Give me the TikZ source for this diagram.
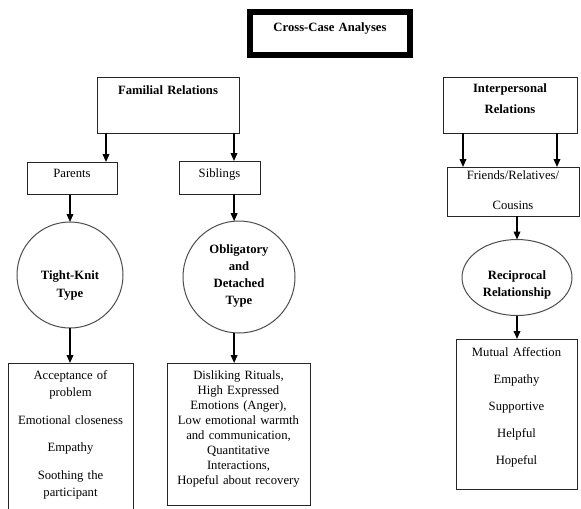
\documentclass[tikz,border=0pt]{standalone}
\usepackage{fontspec}
\setmainfont{Liberation Serif}
\usepackage{tikz}
\usetikzlibrary{
  shapes.geometric,
  arrows.meta
}
\tikzset{every picture/.style={line width=0.75pt}}

\begin{document}
\begin{tikzpicture}[x=0.75pt,y=0.75pt,yscale=-1,xscale=1,
  boxnode/.style={draw=black!85, inner sep=0pt, outer sep=0pt, align=center, anchor=north, font=\fontsize{9.5}{11.25}\selectfont},
  hdrbox/.style={boxnode, font=\fontsize{9.5}{11.25}\selectfont\bfseries},
  typenode/.style={draw=black!70, inner sep=0pt, outer sep=0pt, align=center, font=\fontsize{9.5}{11.25}\selectfont\bfseries},
  conn/.style={-{Triangle[length=6pt,width=5pt]}, line width=1.1pt}]
\useasboundingbox (0,0) rectangle (581,508);

%Shape: Rectangle [title]
\node [hdrbox, line width=4.5pt, draw=black, text width=120pt, text height=14.25pt, text depth=18pt] (title) at (330,12) {Cross-Case Analyses};

%Shape: Rectangle [left branch]
\node [hdrbox, text width=106.5pt, text height=13.1pt, text depth=28.9pt] (familial) at (168,77) {Familial Relations};
\node [boxnode, text width=67.5pt, text height=11.6pt, text depth=13.1pt] (parents) at (72,162) {Parents};
\node [boxnode, text width=60.75pt, text height=12.4pt, text depth=12.4pt] (siblings) at (219.5,161) {Siblings};

%Shape: Rectangle [right branch]
\node [hdrbox, text width=100.5pt, text height=11.6pt, text depth=30.4pt] (interpersonal) at (510,77) {Interpersonal\\[4.5pt]Relations};
\node [boxnode, text width=99pt, text height=9.4pt, text depth=27.4pt] (friends) at (513,167) {Friends/Relatives/\\[11.25pt]Cousins};

%Shape: Circle
\node [typenode, circle, minimum size=79.5pt, text width=60pt, text height=22.75pt, text depth=16pt] (tightknit) at (70,275) {Tight-Knit\\[2.25pt]Type};
\node [typenode, circle, minimum size=84pt, text width=60pt, text height=7.5pt, text depth=42.75pt] (obligatory) at (239,277) {Obligatory\\[1.5pt]and\\[1.5pt]Detached\\[1.5pt]Type};
%Shape: Ellipse
\node [typenode, ellipse, minimum width=82.5pt, minimum height=57pt, text width=58pt, text height=18pt, text depth=15pt] (reciprocal) at (517,277.5) {Reciprocal\\[1.5pt]Relationship};

%Shape: Rectangle [attributes]
\node [boxnode, text width=93.75pt, text height=12.4pt, text depth=101.6pt] (closeattr) at (70.5,363) {Acceptance of\\[1.5pt]problem\\[9.4pt]Emotional closeness\\[9.4pt]Empathy\\[9.4pt]Soothing the\\[1.5pt]participant};
\node [boxnode, text width=107.25pt, text height=12.4pt, text depth=94.1pt] (detachattr) at (238.5,363) {Disliking Rituals,\\High Expressed\\Emotions (Anger),\\Low emotional warmth\\and communication,\\Quantitative\\Interactions,\\Hopeful about recovery};
\node [boxnode, text width=90.75pt, text height=13.1pt, text depth=99.4pt] (mutualattr) at (516.5,339) {Mutual Affection\\[9pt]Empathy\\[9pt]Supportive\\[9pt]Helpful\\[9pt]Hopeful};

%Straight Lines
\coordinate (famL) at ([xshift=6.75pt]familial.south west);
\coordinate (famR) at ([xshift=-3.75pt]familial.south east);
\coordinate (intL) at ([xshift=15pt]interpersonal.south west);
\coordinate (intR) at ([xshift=-15pt]interpersonal.south east);
\draw [conn] (famL) -- (famL |- parents.north);
\draw [conn] (famR) -- (famR |- siblings.north);
\draw [conn] (intL) -- (intL |- friends.north);
\draw [conn] (intR) -- (intR |- friends.north);
\draw [conn] (parents.south -| tightknit.north) -- (tightknit.north);
\draw [conn] (siblings.south -| obligatory.95) -- (obligatory.95);
\draw [conn] (friends.south -| reciprocal.north) -- (reciprocal.north);
\draw [conn] (tightknit.south) -- (tightknit.south |- closeattr.north);
\draw [conn] (obligatory.265) -- (obligatory.265 |- detachattr.north);
\draw [conn] (reciprocal.south) -- (reciprocal.south |- mutualattr.north);

\end{tikzpicture}
\end{document}
